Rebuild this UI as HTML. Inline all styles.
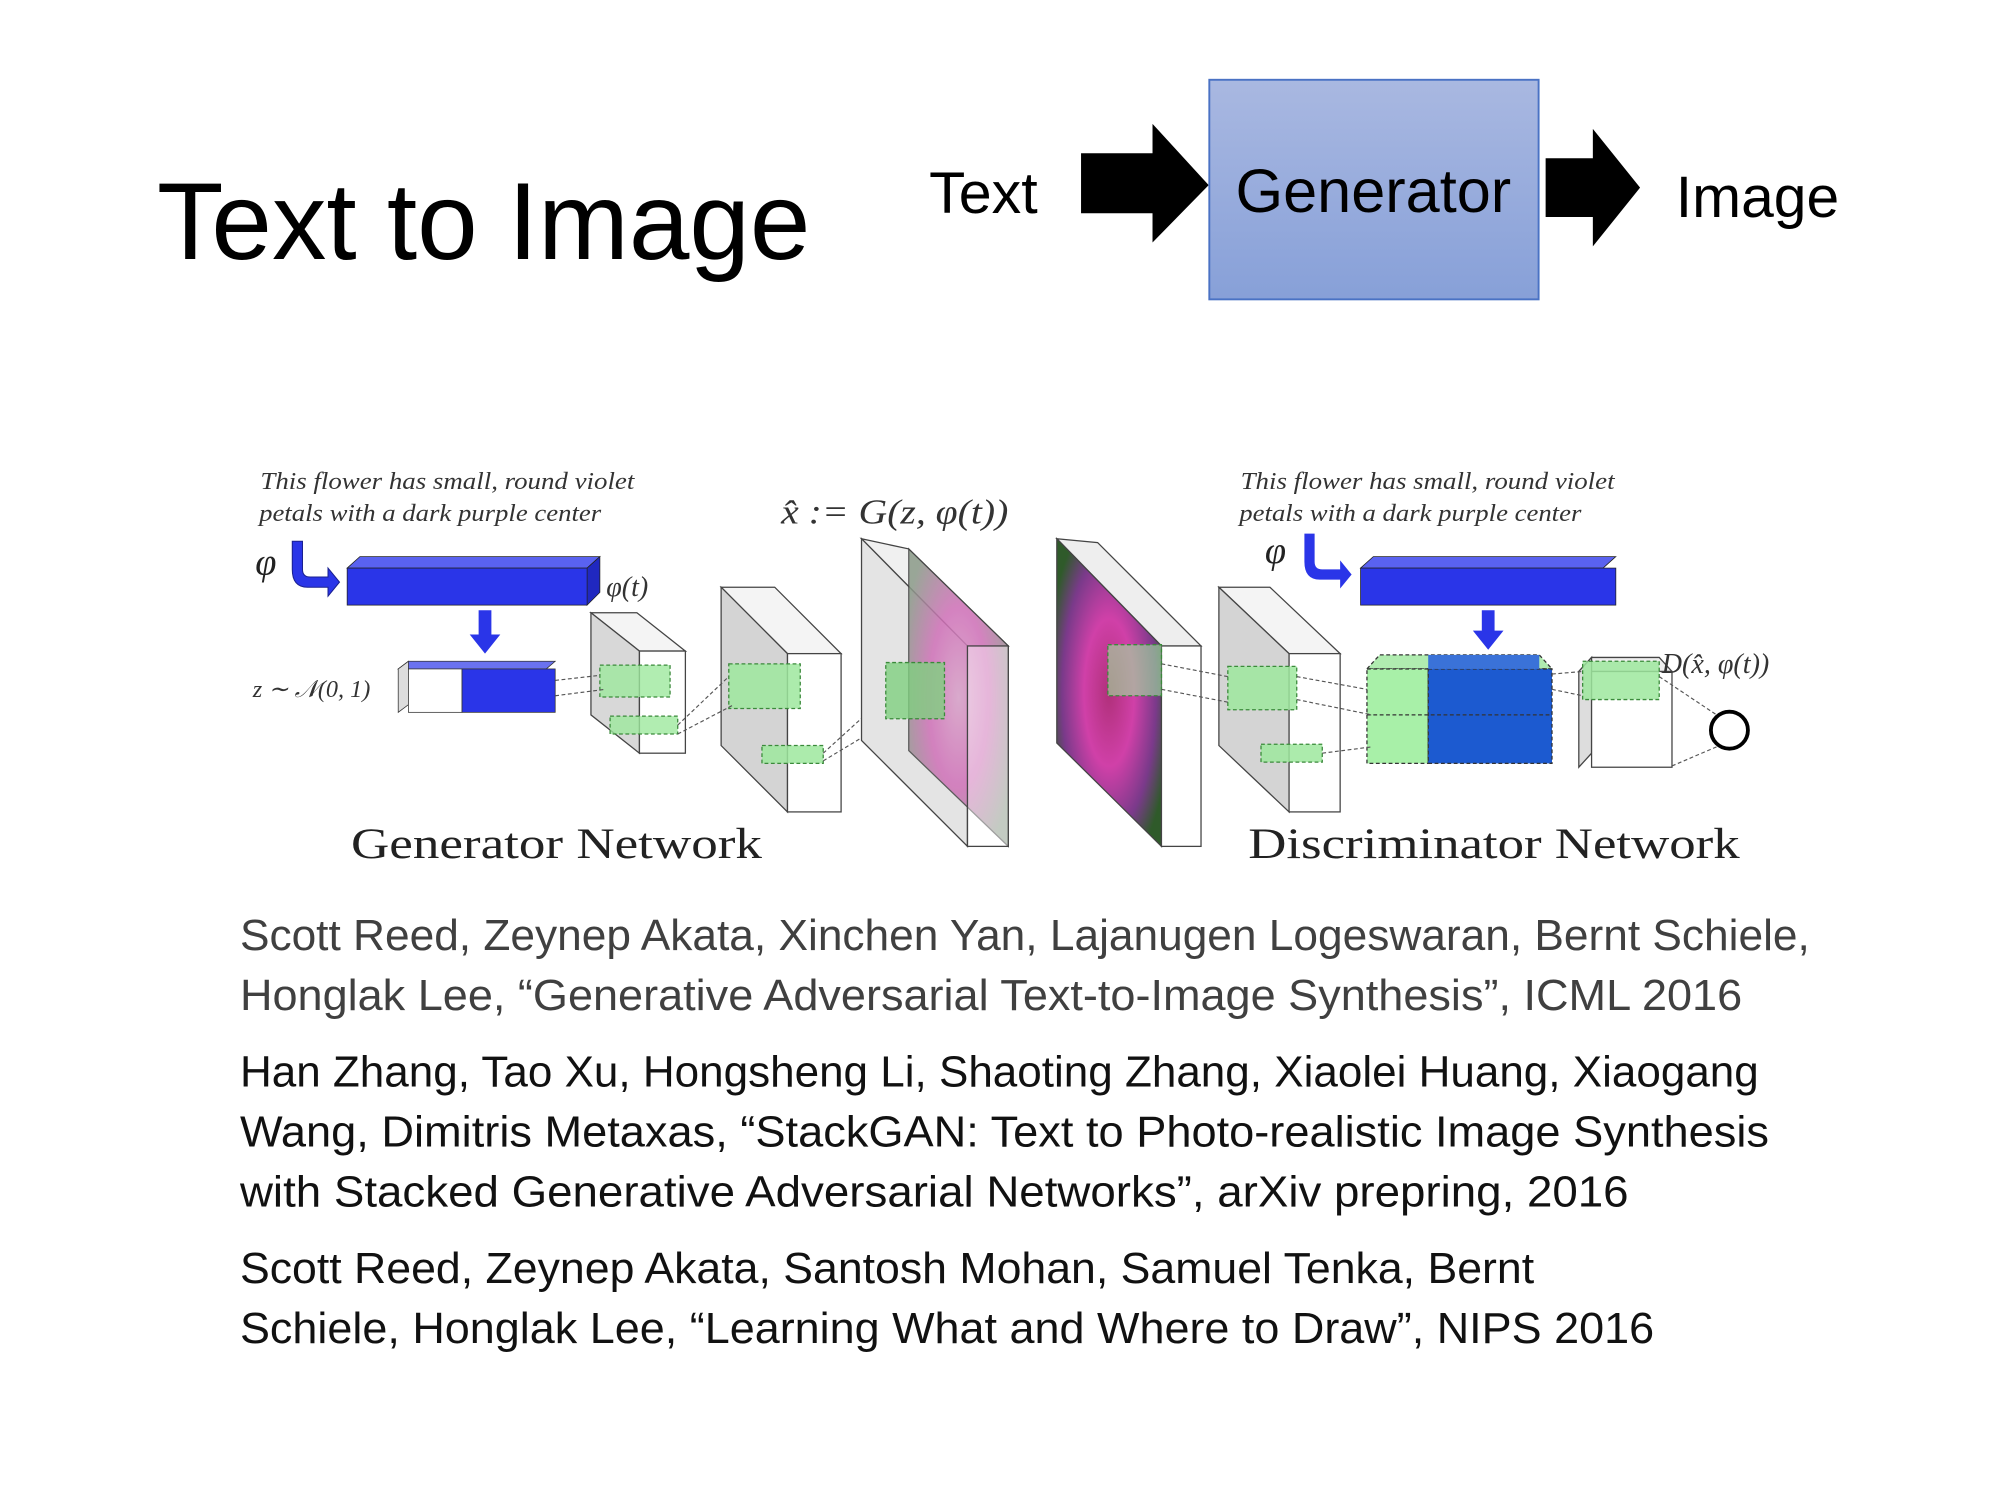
<!DOCTYPE html>
<html><head><meta charset="utf-8"><style>
html,body{margin:0;padding:0;background:#fff;width:2000px;height:1500px;overflow:hidden}
svg{display:block}
.c{font-family:"Liberation Sans",sans-serif}
.s{font-family:"Liberation Serif",serif}
</style></head><body>
<svg width="2000" height="1500" viewBox="0 0 1567 1175" preserveAspectRatio="none" xmlns="http://www.w3.org/2000/svg">
<defs>
<linearGradient id="g" x1="0" y1="0" x2="0" y2="1"><stop offset="0" stop-color="#a9b8e1"/><stop offset="1" stop-color="#87a0d8"/></linearGradient>
<radialGradient id="fl" cx="0.5" cy="0.5" r="0.6"><stop offset="0" stop-color="#b0307a"/><stop offset="0.4" stop-color="#d040a8"/><stop offset="0.75" stop-color="#7a3a8a"/><stop offset="1" stop-color="#2f5a2a"/></radialGradient>
<radialGradient id="fl2" cx="0.5" cy="0.5" r="0.6"><stop offset="0" stop-color="#d8a0c8"/><stop offset="0.5" stop-color="#d070b8"/><stop offset="1" stop-color="#8a9a88"/></radialGradient>
</defs>
<text class="c" x="123" y="203" font-size="86" textLength="512" lengthAdjust="spacingAndGlyphs">Text to Image</text>
<text class="c" x="728" y="167" font-size="46" textLength="85" lengthAdjust="spacingAndGlyphs">Text</text>
<polygon points="847,120 903,120 903,97 947,145 903,190 903,167 847,167" fill="#000"/>
<rect x="947.5" y="62.5" width="258" height="172" fill="url(#g)" stroke="#4a72c4" stroke-width="1.5"/>
<text class="c" x="1076" y="166" font-size="48" text-anchor="middle" textLength="216" lengthAdjust="spacingAndGlyphs">Generator</text>
<polygon points="1211,124 1248,124 1248,101 1285,147 1248,193 1248,170 1211,170" fill="#000"/>
<text class="c" x="1313" y="170" font-size="46" textLength="128" lengthAdjust="spacingAndGlyphs">Image</text>

<g class="s" font-style="italic" font-size="19" fill="#333">
<text x="204" y="383" textLength="293" lengthAdjust="spacingAndGlyphs">This flower has small, round violet</text>
<text x="203" y="408" textLength="268" lengthAdjust="spacingAndGlyphs">petals with a dark purple center</text>
<text x="972" y="383" textLength="293" lengthAdjust="spacingAndGlyphs">This flower has small, round violet</text>
<text x="971" y="408" textLength="268" lengthAdjust="spacingAndGlyphs">petals with a dark purple center</text>
</g>
<text class="s" x="612" y="410" font-size="27" fill="#333" font-style="italic" textLength="178" lengthAdjust="spacingAndGlyphs">x̂ := G(z, φ(t))</text>
<text class="s" x="200" y="450" font-size="30" font-style="italic" fill="#222">φ</text>
<path d="M229,424 h8 v22 q0,6 6,6 h14 v-7 l9,11 -9,11 v-7 h-16 q-12,0 -12,-14z" fill="#2a35e8" stroke="#1a2090" stroke-width="0.8"/>
<polygon points="272,445 282,436 470,436 460,445" fill="#5a62f0" stroke="#222" stroke-width="0.6"/>
<polygon points="460,445 470,436 470,464 460,474" fill="#2028c0" stroke="#222" stroke-width="0.6"/>
<rect x="272" y="445" width="188" height="29" fill="#2a35e8" stroke="#222" stroke-width="0.6"/>
<text class="s" x="475" y="467" font-size="22" font-style="italic" fill="#333">φ(t)</text>
<polygon points="375,478 385,478 385,497 392,497 380,512 368,497 375,497" fill="#2a35e8"/>
<text class="s" x="198" y="546" font-size="19" font-style="italic" fill="#333">z ∼ 𝒩(0, 1)</text>
<polygon points="312,524 320,518 435,518 428,524" fill="#6a72f0" stroke="#333" stroke-width="0.6"/>
<polygon points="312,524 320,518 320,552 312,558" fill="#ddd" stroke="#333" stroke-width="0.6"/>
<rect x="320" y="524" width="42" height="34" fill="#fff" stroke="#333" stroke-width="0.6"/>
<rect x="362" y="524" width="73" height="34" fill="#2a35e8" stroke="#333" stroke-width="0.6"/>

<g stroke="#444" stroke-width="1">
<polygon points="463,480 499,480 537,510 501,510" fill="#f4f4f4"/>
<polygon points="463,480 501,510 501,590 463,560" fill="#d8d8d8"/>
<rect x="501" y="510" width="36" height="80" fill="#fff"/>
</g>
<g fill="#9ee89e" fill-opacity="0.8" stroke="#3a8a3a" stroke-dasharray="3,2" stroke-width="1">
<rect x="470" y="521" width="55" height="25"/><rect x="478" y="561" width="53" height="14"/>
</g>
<g stroke="#444" stroke-width="1">
<polygon points="565,460 607,460 659,512 617,512" fill="#f4f4f4"/>
<polygon points="565,460 617,512 617,636 565,584" fill="#d4d4d4"/>
<rect x="617" y="512" width="42" height="124" fill="#fff"/>
</g>
<g fill="#9ee89e" fill-opacity="0.85" stroke="#3a8a3a" stroke-dasharray="3,2">
<rect x="571" y="520" width="56" height="35"/><rect x="597" y="584" width="48" height="14"/>
</g>
<g stroke="#555" stroke-dasharray="3,2" fill="none" stroke-width="0.9">
<path d="M435,533 L470,529 M435,545 L474,540 M531,568 L571,530 M531,575 L575,552 M645,590 L700,540 M645,596 L705,560"/>
</g>
<g stroke="#444" stroke-width="1">
<polygon points="675,422 712,430 790,506 758,506" fill="#f0f0f0"/>
<polygon points="675,422 758,506 758,663 675,580" fill="#e4e4e4"/>
<polygon points="712,430 790,506 790,663 712,588" fill="url(#fl2)" opacity="0.85"/>
<rect x="758" y="506" width="32" height="157" fill="#fff" fill-opacity="0.4"/>
</g>
<rect x="694" y="519" width="46" height="44" fill="#7fd07f" fill-opacity="0.8" stroke="#3a8a3a" stroke-dasharray="3,2"/>
<text class="s" x="275" y="672" font-size="34" fill="#222" textLength="322" lengthAdjust="spacingAndGlyphs">Generator Network</text>

<g stroke="#444" stroke-width="1">
<polygon points="828,422 860,425 941,506 910,506" fill="#eee"/>
<polygon points="828,422 910,506 910,663 828,582" fill="url(#fl)"/>
<rect x="910" y="506" width="31" height="157" fill="#fff"/>
</g>
<rect x="868" y="505" width="42" height="40" fill="#9ee89e" fill-opacity="0.6" stroke="#3a8a3a" stroke-dasharray="3,2"/>
<g stroke="#444" stroke-width="1">
<polygon points="955,460 995,460 1050,512 1010,512" fill="#f4f4f4"/>
<polygon points="955,460 1010,512 1010,636 955,584" fill="#d4d4d4"/>
<rect x="1010" y="512" width="40" height="124" fill="#fff"/>
</g>
<g fill="#9ee89e" fill-opacity="0.85" stroke="#3a8a3a" stroke-dasharray="3,2">
<rect x="962" y="522" width="54" height="34"/><rect x="988" y="583" width="48" height="14"/>
</g>
<text class="s" x="991" y="441" font-size="30" font-style="italic" fill="#222">φ</text>
<path d="M1022,418 h8 v22 q0,6 6,6 h14 v-7 l9,11 -9,11 v-7 h-16 q-12,0 -12,-14z" fill="#2a35e8"/>
<polygon points="1066,445 1076,436 1266,436 1256,445" fill="#5a62f0" stroke="#222" stroke-width="0.6"/>
<rect x="1066" y="445" width="200" height="29" fill="#2a35e8" stroke="#222" stroke-width="0.6"/>
<polygon points="1161,478 1171,478 1171,494 1178,494 1166,509 1154,494 1161,494" fill="#2a35e8"/>
<polygon points="1071,524 1081,513 1206,513 1216,524" fill="#b0ecb0" stroke="#333" stroke-dasharray="3,2"/>
<rect x="1071" y="524" width="48" height="74" fill="#a8f0a8" stroke="#333" stroke-dasharray="3,2"/>
<rect x="1119" y="524" width="97" height="74" fill="#1c5ad0" stroke="#333" stroke-dasharray="3,2"/>
<rect x="1119" y="513" width="87" height="11" fill="#3a72d8"/>
<line x1="1071" y1="560" x2="1216" y2="560" stroke="#333" stroke-dasharray="3,2"/>
<g stroke="#444" stroke-width="1">
<polygon points="1237,526 1247,515 1300,515 1310,526" fill="#eee"/>
<polygon points="1237,526 1247,515 1247,590 1237,601" fill="#ddd"/>
<rect x="1247" y="526" width="63" height="75" fill="#fff"/>
</g>
<rect x="1240" y="518" width="60" height="30" fill="#9ee89e" fill-opacity="0.85" stroke="#3a8a3a" stroke-dasharray="3,2"/>
<g stroke="#555" stroke-dasharray="3,2" fill="none" stroke-width="0.9">
<path d="M1016,530 L1071,540 M1016,548 L1075,560 M1036,590 L1075,585 M1216,528 L1240,526 M1216,540 L1240,545 M1300,530 L1345,560 M1310,600 L1345,585 M910,520 L962,530 M910,540 L962,550"/>
</g>
<circle cx="1355" cy="572" r="14.5" fill="#fff" stroke="#000" stroke-width="3"/>
<text class="s" x="1302" y="527" font-size="22" font-style="italic" fill="#333">D(x̂, φ(t))</text>
<text class="s" x="978" y="672" font-size="34" fill="#222" textLength="385" lengthAdjust="spacingAndGlyphs">Discriminator Network</text>

<g class="c" font-size="34">
<text x="188" y="744" fill="#404040" textLength="1230" lengthAdjust="spacingAndGlyphs">Scott Reed, Zeynep Akata, Xinchen Yan, Lajanugen Logeswaran, Bernt Schiele,</text>
<text x="188" y="791" fill="#404040" textLength="1177" lengthAdjust="spacingAndGlyphs">Honglak Lee, “Generative Adversarial Text-to-Image Synthesis”, ICML 2016</text>
<text x="188" y="851" fill="#111" textLength="1190" lengthAdjust="spacingAndGlyphs">Han Zhang, Tao Xu, Hongsheng Li, Shaoting Zhang, Xiaolei Huang, Xiaogang</text>
<text x="188" y="898" fill="#111" textLength="1198" lengthAdjust="spacingAndGlyphs">Wang, Dimitris Metaxas, “StackGAN: Text to Photo-realistic Image Synthesis</text>
<text x="188" y="945" fill="#111" textLength="1088" lengthAdjust="spacingAndGlyphs">with Stacked Generative Adversarial Networks”, arXiv prepring, 2016</text>
<text x="188" y="1005" fill="#111" textLength="1014" lengthAdjust="spacingAndGlyphs">Scott Reed, Zeynep Akata, Santosh Mohan, Samuel Tenka, Bernt</text>
<text x="188" y="1052" fill="#111" textLength="1108" lengthAdjust="spacingAndGlyphs">Schiele, Honglak Lee, “Learning What and Where to Draw”, NIPS 2016</text>
</g>
</svg>
</body></html>
